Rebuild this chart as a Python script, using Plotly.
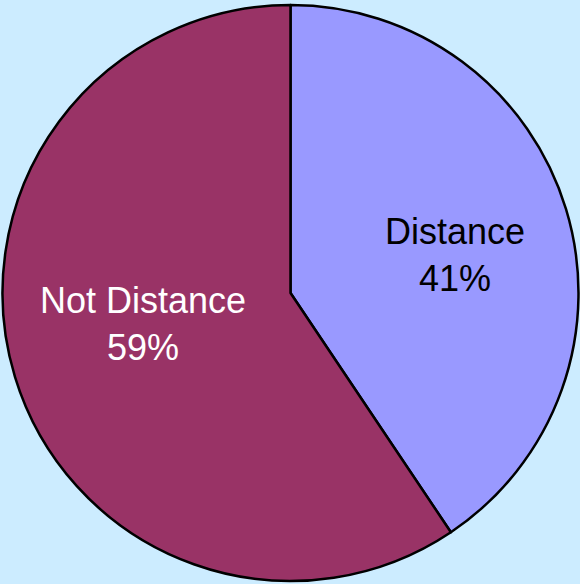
import plotly.graph_objects as go

labels = ["Distance", "Not Distance"]
values = [40.6, 59.4]
colors = ["#9999FF", "#993366"]
text_colors = ["#000000", "#FFFFFF"]
label_x = [454.5 / 580, 142.5 / 580]
label_y = [1 - 254.5 / 584, 1 - 324 / 584]

fig = go.Figure(go.Pie(
    labels=labels,
    values=values,
    sort=False,
    direction="clockwise",
    rotation=0,
    marker=dict(colors=colors, line=dict(color="#000000", width=2.5)),
    textinfo="none",
    hoverinfo="label+percent",
    domain=dict(x=[2.5/580, 578.5/580], y=[3/584, 579/584]),
    showlegend=False,
))

total = sum(values)
for lab, val, col, lx, ly in zip(labels, values, text_colors, label_x, label_y):
    fig.add_annotation(
        x=lx, y=ly, xref="paper", yref="paper",
        text=f"{lab}<br>{round(100 * val / total)}%",
        showarrow=False,
        xanchor="center", yanchor="middle",
        font=dict(family="Liberation Sans, Arial, sans-serif", size=36, color=col),
    )

fig.update_layout(
    width=580, height=584,
    margin=dict(l=0, r=0, t=0, b=0),
    paper_bgcolor="#CCECFF",
    plot_bgcolor="#CCECFF",
)

fig.write_html(
    "out.html",
    config={"displayModeBar": False},
    post_script="document.body.style.margin='0';document.body.style.background='#CCECFF';",
)
